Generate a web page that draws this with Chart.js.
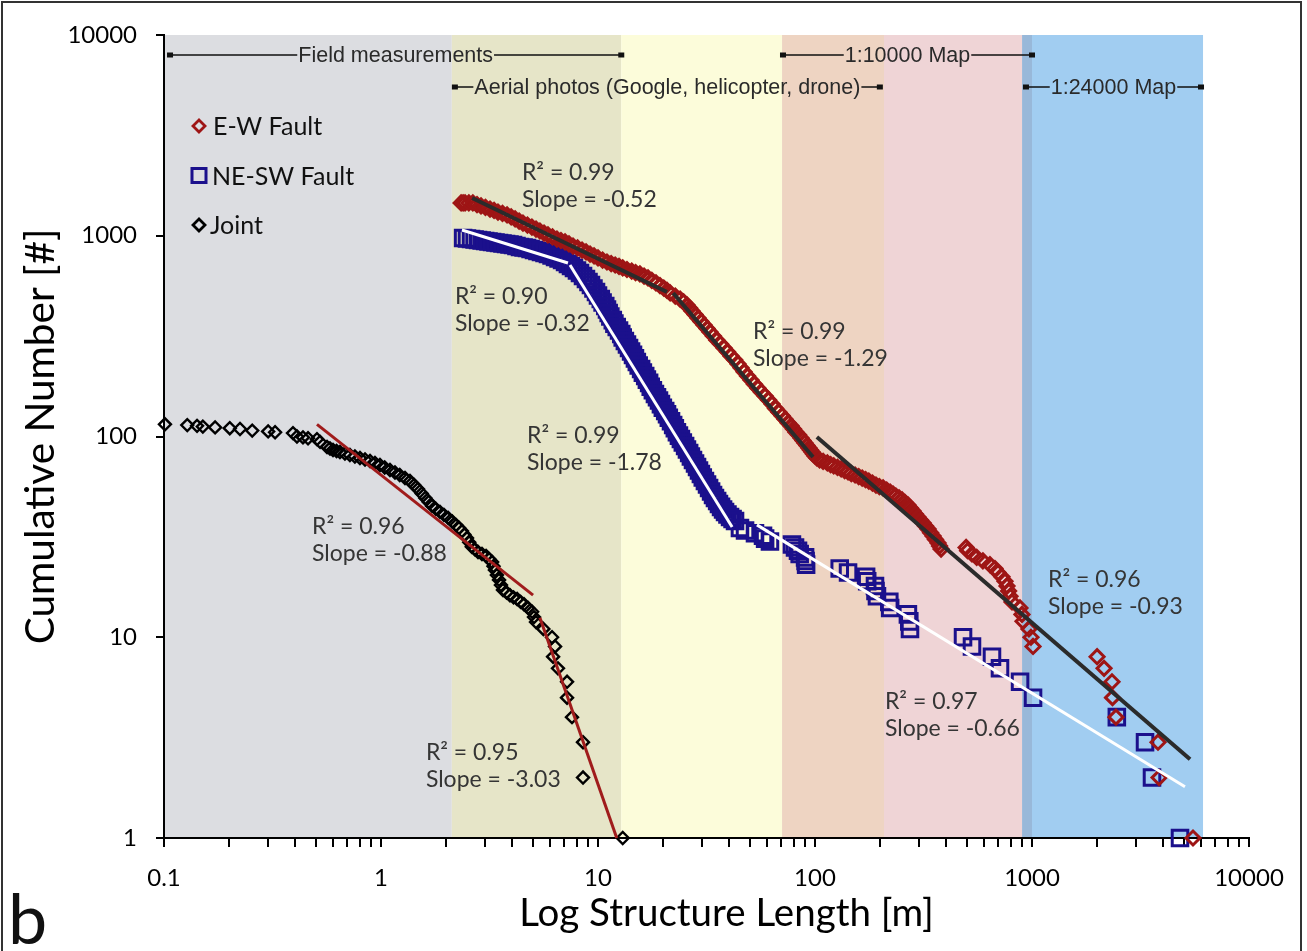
<!DOCTYPE html>
<html><head><meta charset="utf-8">
<script src="https://cdn.jsdelivr.net/npm/chart.js@4.4.1/dist/chart.umd.min.js"></script>
<style>html,body{margin:0;padding:0;background:#fff;}canvas{display:block;}</style>
</head><body>
<canvas id="c" width="1307" height="951"></canvas>
<script>
// ---------------- DATA ----------------
const xTickLabels = ['0.1', '1', '10', '100', '1000', '10000'];
const yTickLabels = ['1', '10', '100', '1000', '10000'];

// E-W Fault: structure length [m] and cumulative number
const ewLength = [
  2.34,2.39,2.44,2.54,2.65,2.77,2.89,3.03,3.18,3.32,
  3.46,3.63,3.81,3.98,4.15,4.33,4.51,4.73,4.96,5.18,
  5.40,5.64,5.88,6.17,6.47,6.75,7.05,7.35,7.67,8.05,
  8.44,8.81,9.19,9.59,10.0,10.5,11.0,11.5,12.0,12.5,
  13.0,13.6,14.3,14.9,15.6,16.3,17.0,17.7,18.5,19.3,
  20.1,20.8,21.5,22.7,23.9,24.8,25.7,26.4,27.1,28.0,
  28.9,29.8,30.8,31.8,32.8,34.0,35.3,36.7,38.1,39.5,
  41.0,42.6,44.2,45.6,47.1,48.9,50.7,52.6,54.6,56.7,
  58.9,61.1,63.4,65.8,68.2,70.5,72.8,75.1,77.5,79.6,
  81.7,83.9,86.2,88.0,89.9,91.8,93.8,95.3,96.9,98.4,
  100,102,105,109,114,118,122,127,132,137,
  142,147,153,159,165,171,177,184,191,198,
  206,214,222,229,236,244,252,260,268,275,
  283,290,298,306,315,323,332,341,350,359,
  369,375,381,
  497,505,529,556,594,640,675,697,727,751,767,780,792,809,880,899,909,968,989,1011,1995,2148,2337,2350,2438,3808,3850,5520];
const ewCount = [
  1456,1456,1456,1456,1456,1431,1407,1383,1359,1336,
  1313,1291,1269,1240,1212,1184,1157,1131,1105,1080,
  1056,1032,1009,986,963,947,931,910,889,869,
  849,830,811,793,775,757,740,727,715,703,
  691,679,667,656,645,630,616,599,582,565,
  549,534,519,501,484,468,452,437,422,405,
  389,374,359,345,332,317,302,289,276,264,
  252,241,230,220,210,200,191,182,174,166,
  159,152,145,138,132,127,122,117,113,109,
  105,102,98.3,95.5,92.8,90.2,87.6,85.6,83.7,81.8,
  80.0,78.2,76.4,75.1,73.8,72.5,71.3,70.1,68.9,67.7,
  66.6,65.4,64.3,63.2,62.1,61.0,60.0,58.6,57.3,56.3,
  55.4,54.1,52.9,51.7,50.5,49.4,48.3,46.9,45.6,44.1,
  42.6,41.1,39.7,38.4,37.1,35.8,34.6,33.2,31.9,30.7,
  29.5,28.5,27.5,
  28,27,26,25,24,23,22,21,20,19,18,17,16,15,14,13,12,11,10,9,8,7,6,5,4,3,2,1];

// NE-SW Fault
const neswLength = [
  2.39,2.49,2.60,2.70,2.80,2.91,3.02,3.13,3.25,3.37,
  3.50,3.63,3.77,3.91,4.06,4.21,4.37,4.54,4.71,4.89,
  5.07,5.26,5.46,5.67,5.88,6.11,6.34,6.58,6.83,7.05,
  7.27,7.51,7.75,8.00,8.26,8.53,8.80,9.04,9.28,9.53,
  9.79,10.0,10.3,10.5,10.8,11.0,11.2,11.4,11.7,11.9,
  12.2,12.5,12.8,13.0,13.3,13.6,13.9,14.2,14.5,14.8,
  15.1,15.4,15.8,16.1,16.5,16.8,17.2,17.5,17.9,18.3,
  18.7,19.1,19.5,19.9,20.4,20.8,21.2,21.7,22.2,22.6,
  23.1,23.6,24.1,24.6,25.2,25.7,26.3,26.8,27.4,28.0,
  28.6,29.2,29.8,30.4,31.1,31.8,32.5,33.2,33.9,34.6,
  35.4,36.1,36.9,37.7,38.5,39.5,40.6,41.7,42.8,
  45.1,47.6,52.9,57.6,58.9,62.0,78.3,80.9,83.5,85.0,90.0,90.5,91.0,130,142,172,174,189,190,193,220,222,268,272,274,481,529,654,712,881,1011,2460,3318,3573,4809];
const neswCount = [
  975,969,963,957,952,946,941,936,931,925,
  920,915,910,904,899,889,879,874,869,859,
  849,839,830,820,811,797,784,770,757,740,
  723,707,691,671,652,630,609,588,568,546,
  525,504,484,465,447,429,412,396,380,365,
  351,337,324,311,299,287,276,265,255,245,
  235,226,217,208,200,192,185,177,170,163,
  157,151,145,139,134,129,124,119,114,110,
  105,101,97.2,93.4,89.7,86.2,82.8,79.5,76.4,73.4,
  70.5,67.7,65.1,62.5,60.0,57.7,55.4,53.2,51.1,49.4,
  47.7,46.1,44.6,43.3,42.1,40.9,39.7,38.8,37.9,
  35,34,33,32,31,30,29,28,27,26,25,24,23,22,21,20,19,18,17,16,15,14,13,12,11,10,9,8,7,6,5,4,3,2,1];

// Joint
const jointLength = [
  0.101,0.128,0.142,0.151,0.172,0.201,0.224,0.255,0.302,0.325,0.393,0.410,0.437,0.461,0.507,0.524,
  0.564,0.582,0.601,0.624,0.647,0.682,0.719,0.758,0.800,0.844,
  0.890,0.938,0.989,1.04,1.10,1.16,1.22,1.29,1.36,1.42,
  1.48,1.54,1.60,1.66,1.72,1.79,1.87,1.95,2.04,2.13,
  2.22,2.29,2.36,2.42,2.49,2.55,2.62,2.71,2.80,2.92,
  3.05,3.15,3.25,3.30,3.35,3.42,3.50,3.57,3.65,3.79,
  3.93,4.08,4.24,4.40,4.56,4.76,4.97,5.07,5.18,
  5.60,6.14,6.34,6.21,6.54,7.20,7.20,7.59,8.53,8.53,13.0];
const jointCount = [
  115,114,113,112,111,110,109,107,106,105,104,100,99,98,97,94,
  88.7,87.2,85.7,84.7,83.7,82.3,80.9,79.5,78.1,76.8,
  75.5,73.8,72.1,70.1,68.1,66.2,64.3,62.1,60.0,57.3,
  54.8,52.0,49.4,47.2,45.1,43.6,42.1,40.7,39.3,37.7,
  36.2,35.0,33.8,32.5,31.2,29.7,28.2,27.4,26.6,26.0,
  25.4,24.5,23.7,22.6,21.6,20.4,19.3,18.2,17.2,16.7,
  16.2,15.8,15.5,15.0,14.6,14.0,13.4,12.6,11.9,
  11,10,9,8,7,6,5,4,3,2,1];

// Power-law fit segments (end points in data units)
const fitSeries  = ['EW', 'EW', 'EW', 'NESW', 'NESW', 'NESW', 'Joint', 'Joint'];
const fitX1 = [2.63, 22.2, 102, 2.36, 7.43, 54.0, 0.507, 5.40];
const fitY1 = [1542, 519, 99.4, 1068, 715, 36.3, 115, 12.5];
const fitX2 = [20.8, 97.9, 5350, 7.27, 41.5, 5070, 5.02, 12.2];
const fitY2 = [525, 79.0, 2.47, 732, 35.4, 1.80, 16.2, 1.0];

// Fit labels (anchor: left end of first line, in data units)
const fitR2    = ['0.99', '0.90', '0.99', '0.99', '0.96', '0.95', '0.96', '0.97'];
const fitSlope = ['-0.52', '-0.32', '-1.29', '-1.78', '-0.88', '-3.03', '-0.93', '-0.66'];
const labelX   = [4.46, 2.19, 51.8, 4.71, 0.481, 1.61, 1185, 210];
const labelY   = [2054, 495, 332, 100.6, 35.4, 2.65, 19.3, 4.76];

// Observation-scale ranges
const rangeLabels = ['Field measurements', 'Aerial photos (Google, helicopter, drone)', '1:10000 Map', '1:24000 Map'];
const rangeStart  = [0.1066, 2.19, 71.2, 938];
const rangeEnd    = [12.8, 199, 1000, 6010];
const rangeRow    = [0, 1, 0, 1];

// Background bands (length limits)
const bandEdges  = [0.1, 2.12, 12.8, 70.5, 208, 900, 1000, 6140];
const bandColors = ['#dcdde1', '#e6e5c8', '#fcfcda', '#eed4c2', '#efd4d6', '#98b8d9', '#a1cdf1'];

// ---------------- STYLE ----------------
const RED = '#9e1515', BLUE = '#1b108c', BLACK = '#000000';
const FONT = 'Lato';

const toPts = (xs, ys) => xs.map((v, i) => ({x: v, y: ys[i]}));
const fitColor = {EW: '#2b2b2b', NESW: '#ffffff', Joint: '#a01c1c'};
const fitWidth = {EW: 4, NESW: 3, Joint: 3};

const fitDatasets = fitSeries.map((s, i) => ({
  label: 'fit ' + s,
  data: [{x: fitX1[i], y: fitY1[i]}, {x: fitX2[i], y: fitY2[i]}],
  showLine: true, borderColor: fitColor[s], borderWidth: fitWidth[s],
  pointRadius: 0, fill: false, clip: false
}));

const datasets = [
  ...fitDatasets,
  {label: 'E-W Fault', data: toPts(ewLength, ewCount), pointStyle: 'rectRot', pointRadius: 7,
   pointBorderWidth: 3, borderColor: RED, backgroundColor: 'rgba(0,0,0,0)', showLine: false, clip: false},
  {label: 'NE-SW Fault', data: toPts(neswLength, neswCount), pointStyle: 'rect', pointRadius: 11,
   pointBorderWidth: 3, borderColor: BLUE, backgroundColor: 'rgba(0,0,0,0)', showLine: false, clip: false},
  {label: 'Joint', data: toPts(jointLength, jointCount), pointStyle: 'rectRot', pointRadius: 6,
   pointBorderWidth: 2.4, borderColor: BLACK, backgroundColor: 'rgba(0,0,0,0)', showLine: false, clip: false}
];

const xTickValues = xTickLabels.map(Number);
const yTickValues = yTickLabels.map(Number);
const xAllTicks = [];
xTickValues.forEach((d, i) => {
  xAllTicks.push(d);
  if (i < xTickValues.length - 1) for (let m = 2; m <= 9; m++) xAllTicks.push(+(m * d).toPrecision(6));
});

// ---------------- PLUGINS ----------------
const bgPlugin = {
  id: 'bands',
  beforeDraw(chart) {
    const {ctx, chartArea: {top, bottom}, scales: {x}} = chart;
    ctx.save();
    for (let i = 0; i < bandColors.length; i++) {
      const x1 = x.getPixelForValue(bandEdges[i]);
      const x2 = x.getPixelForValue(bandEdges[i + 1]);
      ctx.fillStyle = bandColors[i];
      ctx.fillRect(x1, top, x2 - x1, bottom - top);
    }
    ctx.restore();
  }
};

function diamond(ctx, cx, cy, r) {
  ctx.beginPath(); ctx.moveTo(cx - r, cy); ctx.lineTo(cx, cy - r); ctx.lineTo(cx + r, cy); ctx.lineTo(cx, cy + r); ctx.closePath();
}

const overlayPlugin = {
  id: 'overlay',
  afterDatasetsDraw(chart) {
    const {ctx, chartArea, scales: {x, y}} = chart;
    ctx.save();
    // range bars
    ctx.font = '21.5px "Liberation Sans", Arial, sans-serif';
    ctx.textBaseline = 'middle';
    ctx.textAlign = 'center';
    rangeLabels.forEach((lab, i) => {
      const x1 = x.getPixelForValue(rangeStart[i]);
      const x2 = x.getPixelForValue(rangeEnd[i]);
      const yy = chartArea.top + (rangeRow[i] === 0 ? 20 : 52);
      const cx = (x1 + x2) / 2;
      const w = ctx.measureText(lab).width;
      ctx.strokeStyle = '#111'; ctx.lineWidth = 1.6;
      ctx.beginPath();
      ctx.moveTo(x1, yy); ctx.lineTo(cx - w / 2 - 1, yy);
      ctx.moveTo(cx + w / 2 + 1, yy); ctx.lineTo(x2, yy);
      ctx.stroke();
      ctx.fillStyle = '#111';
      ctx.fillRect(x1 - 3, yy - 2.5, 6, 5);
      ctx.fillRect(x2 - 3, yy - 2.5, 6, 5);
      ctx.fillStyle = '#2a2a2a';
      ctx.fillText(lab, cx, yy + 1);
    });
    // fit labels
    ctx.font = '23px ' + FONT;
    ctx.textAlign = 'left';
    ctx.fillStyle = '#353535';
    fitR2.forEach((r2, i) => {
      const px = x.getPixelForValue(labelX[i]);
      const py = y.getPixelForValue(labelY[i]);
      ctx.fillText('R\u00B2 = ' + r2, px, py);
      ctx.fillText('Slope = ' + fitSlope[i], px, py + 27);
    });
    // legend
    const lx = chartArea.left + 35, ly0 = chartArea.top + 91, dy = 49.5;
    ctx.font = '25px ' + FONT;
    ctx.fillStyle = '#111';
    ctx.lineWidth = 2.8;
    ctx.strokeStyle = RED; diamond(ctx, lx, ly0, 6); ctx.stroke();
    ctx.fillText('E-W Fault', lx + 14, ly0 + 1);
    ctx.strokeStyle = BLUE; ctx.lineWidth = 3; ctx.strokeRect(lx - 7, ly0 + dy - 7, 14, 14);
    ctx.fillText('NE-SW Fault', lx + 13, ly0 + dy + 1);
    ctx.strokeStyle = BLACK; ctx.lineWidth = 2.8; diamond(ctx, lx, ly0 + 2 * dy, 6); ctx.stroke();
    ctx.fillText('Joint', lx + 11, ly0 + 2 * dy + 1);
    ctx.restore();
  },
  afterDraw(chart) {
    const {ctx} = chart;
    ctx.save();
    ctx.font = '70px ' + FONT;
    ctx.fillStyle = '#111';
    ctx.textAlign = 'left';
    ctx.textBaseline = 'alphabetic';
    ctx.fillText('b', 8, 944);
    ctx.strokeStyle = '#333'; ctx.lineWidth = 2;
    ctx.beginPath();
    ctx.moveTo(2, 951); ctx.lineTo(2, 2); ctx.lineTo(1301, 2); ctx.lineTo(1301, 951);
    ctx.stroke();
    ctx.restore();
  }
};

// x-axis title in the reference sits ~20px right of the plot-area centre
const X_TITLE_SHIFT = 20;

// ---------------- CHART ----------------
Chart.defaults.font.family = FONT;
new Chart(document.getElementById('c'), {
  type: 'scatter',
  data: {datasets},
  options: {
    responsive: false, animation: false, devicePixelRatio: 1,
    layout: {padding: {top: 35, right: 58, left: 0, bottom: 0}},
    plugins: {legend: {display: false}, tooltip: {enabled: false}},
    elements: {point: {hoverRadius: 0}},
    scales: {
      x: {
        type: 'logarithmic', position: 'bottom', min: 0.1, max: 10000,
        afterFit(s) {
          s.height = 113;
          if (!s._titleShifted) {
            const proto = Object.getPrototypeOf(s);
            s.drawTitle = function () {
              this.ctx.save(); this.ctx.translate(X_TITLE_SHIFT, 0);
              proto.drawTitle.call(this);
              this.ctx.restore();
            };
            s._titleShifted = true;
          }
        },
        afterBuildTicks(s) { s.ticks = xAllTicks.map(v => ({value: v})); },
        ticks: {autoSkip: false, maxRotation: 0, minRotation: 0, color: '#000', padding: 17,
          font: {family: FONT, size: 24},
          callback(v) { const i = xTickValues.indexOf(v); return i >= 0 ? xTickLabels[i] : ''; }},
        grid: {display: true, drawOnChartArea: false, drawTicks: true, tickLength: 9, color: '#000', lineWidth: 2},
        border: {display: true, color: '#000', width: 2},
        title: {display: true, text: 'Log Structure Length [m]', color: '#000',
          font: {family: FONT, size: 38.5}, padding: {top: 0, bottom: 14}}
      },
      y: {
        type: 'logarithmic', position: 'left', min: 1, max: 10000,
        afterFit(s) { s.width = 164; },
        afterBuildTicks(s) { s.ticks = yTickValues.map(v => ({value: v})); },
        ticks: {autoSkip: false, color: '#000', padding: 19, font: {family: FONT, size: 24},
          callback(v) { const i = yTickValues.indexOf(v); return i >= 0 ? yTickLabels[i] : ''; }},
        grid: {display: true, drawOnChartArea: false, drawTicks: true, tickLength: 8, color: '#000', lineWidth: 2},
        border: {display: true, color: '#000', width: 2},
        title: {display: true, text: 'Cumulative Number [#]', color: '#000',
          font: {family: FONT, size: 40.5}, padding: {top: 17, bottom: 0}}
      }
    }
  },
  plugins: [bgPlugin, overlayPlugin]
});
</script>
</body></html>
